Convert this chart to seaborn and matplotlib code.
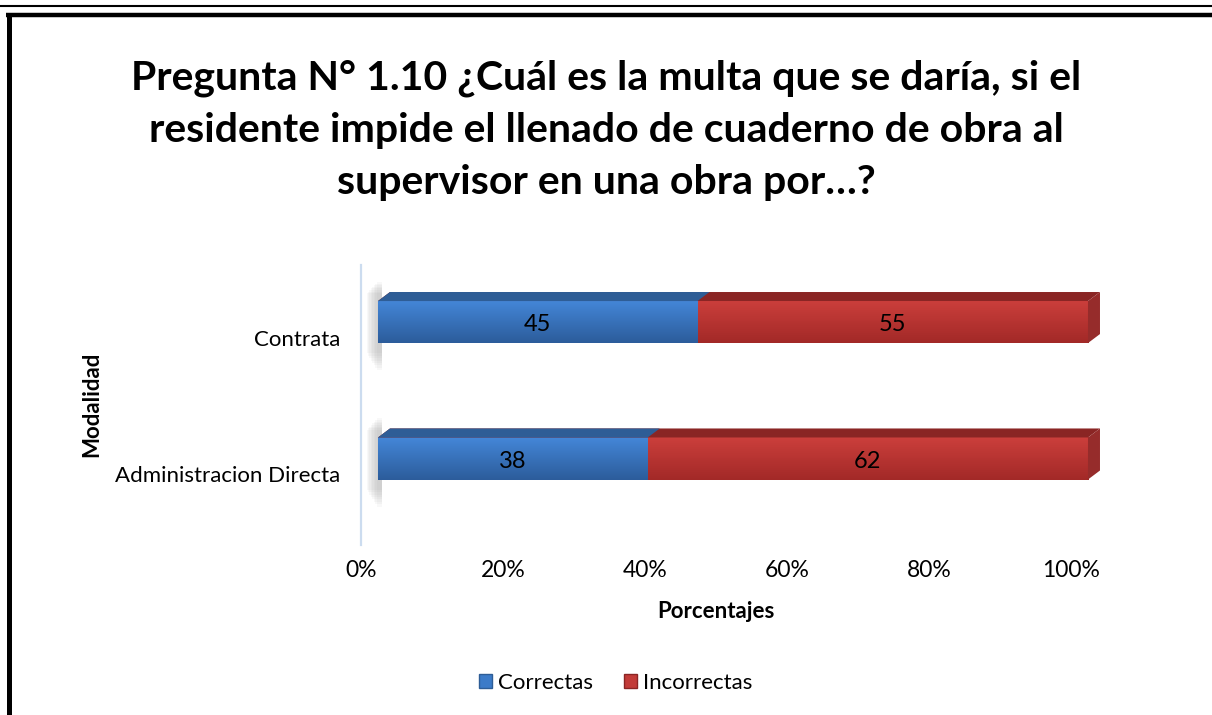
import numpy as np
import pandas as pd
import matplotlib.pyplot as plt
import matplotlib.transforms as mtransforms
from matplotlib.colors import LinearSegmentedColormap
from matplotlib.patches import Polygon, Patch
from matplotlib.lines import Line2D
import seaborn as sns

# Datos
modalidades = ["Contrata", "Administracion Directa"]
correctas = [45, 38]
incorrectas = [55, 62]
series = ["Correctas", "Incorrectas"]
ticks = [0, 20, 40, 60, 80, 100]

df = pd.DataFrame({"modalidad": modalidades,
                   "correctas": correctas,
                   "incorrectas": incorrectas})
df["total"] = df["correctas"] + df["incorrectas"]

azul, azul_top, azul_claro, azul_osc = "#3C7BC8", "#2E5D96", "#4487D8", "#2C5C9B"
rojo, rojo_top, rojo_claro, rojo_osc = "#C23B38", "#8A2524", "#CC3F3C", "#A22927"

sns.set_theme(style="white")
plt.rcParams["font.family"] = ["Liberation Sans Narrow", "Lato", "DejaVu Sans"]
plt.rcParams["text.color"] = "black"
plt.rcParams["xtick.color"] = "black"
plt.rcParams["ytick.color"] = "black"

W, H = 1212, 715
fig = plt.figure(figsize=(W / 100, H / 100), dpi=100)
ax = fig.add_axes([361 / W, 1 - 545 / H, (1109 - 361) / W, 280 / H])

# barras apiladas: total (rojo) y encima correctas (azul)
sns.barplot(data=df, y="modalidad", x="total", color=rojo, orient="h",
            width=0.308, saturation=1, linewidth=0, ax=ax)
sns.barplot(data=df, y="modalidad", x="correctas", color=azul, orient="h",
            width=0.308, saturation=1, linewidth=0, ax=ax)

xmin, xmax = -2.39, 102.96
ymin, ymax = -0.418, 1.634
dx, dy = 1.69, 0.066  # profundidad del efecto 3D (unidades de datos)

barras = list(ax.patches)
n = len(modalidades)
for i, p in enumerate(barras):
    x0, y0 = p.get_x(), p.get_y()
    w, h = p.get_width(), p.get_height()
    es_rojo = i < n
    c1, c2 = (rojo_claro, rojo_osc) if es_rojo else (azul_claro, azul_osc)
    cmap = LinearSegmentedColormap.from_list("g", [c1, c2])
    grad = np.linspace(0, 1, 64).reshape(-1, 1)
    im = ax.imshow(grad, cmap=cmap, aspect="auto",
                   extent=[x0, x0 + w, y0 + h, y0], zorder=2)
    im.set_clip_path(p)
    top = Polygon([(x0, y0), (x0 + w, y0), (x0 + w + dx, y0 - dy), (x0 + dx, y0 - dy)],
                  closed=True, facecolor=rojo_top if es_rojo else azul_top,
                  edgecolor="none", zorder=3)
    ax.add_patch(top)
    if es_rojo:
        lado = Polygon([(x0 + w, y0), (x0 + w + dx, y0 - dy),
                        (x0 + w + dx, y0 + h - dy), (x0 + w, y0 + h)],
                       closed=True, facecolor="#962C2B", edgecolor="none", zorder=3)
        ax.add_patch(lado)
    else:
        # sombra difusa a la izquierda de cada barra
        for k in range(8):
            ext = 0.012 * k
            ax.fill_betweenx([y0 - 0.14 + ext, y0 + h + 0.2 - 1.5 * ext],
                             x0 - 0.2 * (k + 1), x0 + 0.5,
                             color="grey", alpha=0.05, linewidth=0, zorder=1)

# etiquetas de datos
for i in range(n):
    ax.text(correctas[i] / 2, i + 0.02, str(correctas[i]), ha="center", va="center",
            fontsize=17, zorder=5)
    ax.text(correctas[i] + incorrectas[i] / 2, i + 0.02, str(incorrectas[i]),
            ha="center", va="center", fontsize=17, zorder=5)

ax.set_xlim(xmin, xmax)
ax.set_ylim(ymax, ymin)
ax.set_xticks(ticks)
ax.set_xticklabels([f"{t}%" for t in ticks])
ax.set_xlabel("")
ax.set_ylabel("")
ax.tick_params(axis="x", labelsize=16.5, pad=11, length=0)
ax.tick_params(axis="y", labelsize=16, pad=15, length=0)

for lab in ax.get_xticklabels():
    lab.set_transform(lab.get_transform() +
                      mtransforms.ScaledTranslation(-17 / 100, 0, fig.dpi_scale_trans))
for lab in ax.get_yticklabels():
    lab.set_transform(lab.get_transform() +
                      mtransforms.ScaledTranslation(0, -16 / 100, fig.dpi_scale_trans))

for s in ["top", "right", "bottom"]:
    ax.spines[s].set_visible(False)
ax.spines["left"].set_color("#CCDCEF")
ax.spines["left"].set_linewidth(1.6)

# títulos
fig.text(606 / W, 1 - 130 / H,
         "Pregunta N° 1.10 ¿Cuál es la multa que se daría, si el\n"
         "residente impide el llenado de cuaderno de obra al\n"
         "supervisor en una obra por…?",
         ha="center", va="center", fontsize=29.5, fontweight="bold",
         linespacing=1.5)
fig.text(716 / W, 1 - 611 / H, "Porcentajes", ha="center", va="center",
         fontsize=16, fontweight="bold")
fig.text(92 / W, 1 - 404 / H, "Modalidad", ha="center", va="center",
         fontsize=16, fontweight="bold", rotation=90)

# leyenda
handles = [Patch(facecolor=azul, edgecolor=azul_top),
           Patch(facecolor=rojo, edgecolor=rojo_top)]
fig.legend(handles, series, loc="center", bbox_to_anchor=(616 / W, 1 - 683 / H),
           ncol=2, frameon=False, fontsize=16, handlelength=0.55,
           handleheight=0.55, handletextpad=0.3, columnspacing=1.4)

# bordes del marco
fig.add_artist(Line2D([0, 1], [1 - 5.7 / H] * 2, color="black", lw=1.5))
fig.add_artist(Line2D([6 / W, 1], [1 - 15.2 / H] * 2, color="black", lw=3.2,
                      solid_capstyle="butt"))
fig.add_artist(Line2D([9 / W] * 2, [1 - 13 / H, 0], color="black", lw=3.6,
                      solid_capstyle="butt"))

fig.savefig("out.png", dpi=100)
